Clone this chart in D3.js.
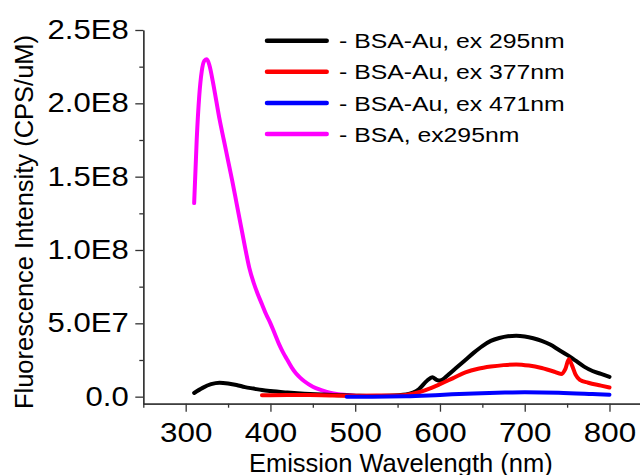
<!DOCTYPE html>
<html>
<head>
<meta charset="utf-8">
<script src="https://cdn.jsdelivr.net/npm/d3@7"></script>
<style>
  body { margin: 0; background: #fff; }
  svg { display: block; font-family: "Liberation Sans", Arial, sans-serif; }
</style>
</head>
<body>
<svg id="chart"></svg>
<script>
// emission spectra, wavelength in nm, intensity in CPS/uM
const blackWl  = [310, 320, 330, 340, 350, 360, 370, 380, 390, 400, 420, 440, 460, 480, 500, 520, 540, 560, 575, 585, 591, 596, 600, 610, 620, 630, 640, 650, 660, 670, 680, 690, 700, 710, 720, 730, 740, 750, 760, 770, 780, 790, 800];
const blackVal = [0.25e7, 0.6e7, 0.85e7, 0.95e7, 0.9e7, 0.8e7, 0.65e7, 0.55e7, 0.45e7, 0.38e7, 0.28e7, 0.2e7, 0.14e7, 0.1e7, 0.07e7, 0.05e7, 0.07e7, 0.15e7, 0.5e7, 1.1e7, 1.32e7, 1.15e7, 1.1e7, 1.5e7, 2.0e7, 2.5e7, 3.0e7, 3.45e7, 3.8e7, 4.0e7, 4.12e7, 4.15e7, 4.1e7, 3.98e7, 3.8e7, 3.55e7, 3.2e7, 2.85e7, 2.45e7, 2.05e7, 1.75e7, 1.55e7, 1.35e7];

const redWl  = [390, 420, 460, 500, 540, 560, 575, 590, 600, 615, 630, 645, 660, 675, 690, 705, 720, 735, 743, 748, 752, 756, 760, 765, 775, 790, 800];
const redVal = [0.1e7, 0.12e7, 0.1e7, 0.07e7, 0.08e7, 0.12e7, 0.3e7, 0.6e7, 0.85e7, 1.25e7, 1.65e7, 1.9e7, 2.05e7, 2.15e7, 2.2e7, 2.12e7, 1.95e7, 1.7e7, 1.55e7, 1.9e7, 2.55e7, 2.1e7, 1.5e7, 1.15e7, 0.95e7, 0.75e7, 0.62e7];

const blueWl  = [490, 520, 560, 600, 640, 680, 700, 740, 780, 800];
const blueVal = [0.0, 0.0, 0.02e7, 0.12e7, 0.22e7, 0.28e7, 0.3e7, 0.27e7, 0.18e7, 0.13e7];

const magWl  = [310, 313, 316, 319, 322, 325, 328, 332, 336, 340, 345, 350, 355, 360, 365, 370, 375, 380, 385, 390, 395, 400, 405, 410, 415, 420, 425, 430, 435, 440, 450, 460, 470, 480, 490, 500];
const magVal = [1.32e8, 1.75e8, 2.05e8, 2.22e8, 2.29e8, 2.3e8, 2.26e8, 2.15e8, 2.02e8, 1.89e8, 1.75e8, 1.61e8, 1.47e8, 1.32e8, 1.17e8, 1.02e8, 0.88e8, 0.78e8, 0.7e8, 0.63e8, 0.56e8, 0.5e8, 0.43e8, 0.36e8, 0.3e8, 0.25e8, 0.2e8, 0.16e8, 0.13e8, 0.105e8, 0.068e8, 0.045e8, 0.027e8, 0.017e8, 0.012e8, 0.007e8];

const seriesNames  = ["- BSA-Au, ex 295nm", "- BSA-Au, ex 377nm", "- BSA-Au, ex 471nm", "- BSA, ex295nm"];
const seriesColors = ["#000000", "#ff0000", "#0000ff", "#ff00ff"];

const xTicks = [300, 400, 500, 600, 700, 800];
const xMinor = [250, 350, 450, 550, 650, 750];
const yTicks = [0, 5e7, 1e8, 1.5e8, 2e8, 2.5e8];
const yTickLabels = ["0.0", "5.0E7", "1.0E8", "1.5E8", "2.0E8", "2.5E8"];
const yMinor = [2.5e7, 7.5e7, 1.25e8, 1.75e8, 2.25e8];

const W = 640, H = 475;
const svg = d3.select("#chart").attr("width", W).attr("height", H);

const x = d3.scaleLinear().domain([250, 836]).range([143.3, 640]);
const y = d3.scaleLinear().domain([-4.8e6, 2.5e8]).range([403.7, 30]);

// axes
const xAxis = svg.append("g").attr("transform", `translate(0,${y.range()[0]})`)
    .call(d3.axisBottom(x).tickValues(xTicks).tickSize(8).tickPadding(10).tickSizeOuter(0));
svg.append("g").attr("transform", `translate(0,${y.range()[0]})`)
    .call(d3.axisBottom(x).tickValues(xMinor).tickSize(4).tickFormat("").tickSizeOuter(0));
const yAxis = svg.append("g").attr("transform", `translate(${x.range()[0]},0)`)
    .call(d3.axisLeft(y).tickValues(yTicks).tickSize(8).tickPadding(4.7).tickSizeOuter(0)
        .tickFormat((d, i) => yTickLabels[i]));
svg.append("g").attr("transform", `translate(${x.range()[0]},0)`)
    .call(d3.axisLeft(y).tickValues(yMinor).tickSize(4).tickFormat("").tickSizeOuter(0));

svg.selectAll(".domain, .tick line").attr("stroke", "#333").attr("stroke-width", 1.3);
xAxis.selectAll("text").attr("font-size", "28px").attr("fill", "#000")
    .attr("font-family", "'Liberation Sans', Arial, sans-serif")
    .attr("transform", "scale(1.12,1)");
yAxis.selectAll("text").attr("font-size", "27px").attr("fill", "#000")
    .attr("font-family", "'Liberation Sans', Arial, sans-serif")
    .attr("transform", "scale(1.15,1)");

// axis titles
svg.append("text")
    .attr("x", 400.8).attr("y", 471.7)
    .attr("text-anchor", "middle")
    .attr("font-size", "25.5px")
    .text("Emission Wavelength (nm)");
svg.append("text")
    .attr("transform", "translate(33,222) rotate(-90)")
    .attr("text-anchor", "middle")
    .attr("font-size", "25.5px")
    .text("Fluorescence Intensity (CPS/uM)");

// lines
const line = d3.line()
    .x(d => x(d[0]))
    .y(d => y(d[1]))
    .curve(d3.curveMonotoneX);

const series = [
    d3.zip(blackWl, blackVal),
    d3.zip(redWl, redVal),
    d3.zip(blueWl, blueVal),
    d3.zip(magWl, magVal)
];
// magenta goes under the others, like the reference
[3, 0, 1, 2].forEach(i => {
    svg.append("path")
        .attr("d", line(series[i]))
        .attr("fill", "none")
        .attr("stroke", seriesColors[i])
        .attr("stroke-width", 4)
        .attr("stroke-linejoin", "round")
        .attr("stroke-linecap", "round");
});

// legend
const legend = svg.append("g");
seriesNames.forEach((name, i) => {
    const ly = 40.7 + i * 31.1;
    legend.append("line")
        .attr("x1", 267).attr("x2", 326.7)
        .attr("y1", ly).attr("y2", ly)
        .attr("stroke", seriesColors[i])
        .attr("stroke-width", 4.5)
        .attr("stroke-linecap", "round");
    legend.append("text")
        .attr("transform", `translate(339,${ly + 7.6}) scale(1.18,1)`)
        .attr("font-size", "21px")
        .text(name);
});
</script>
</body>
</html>
